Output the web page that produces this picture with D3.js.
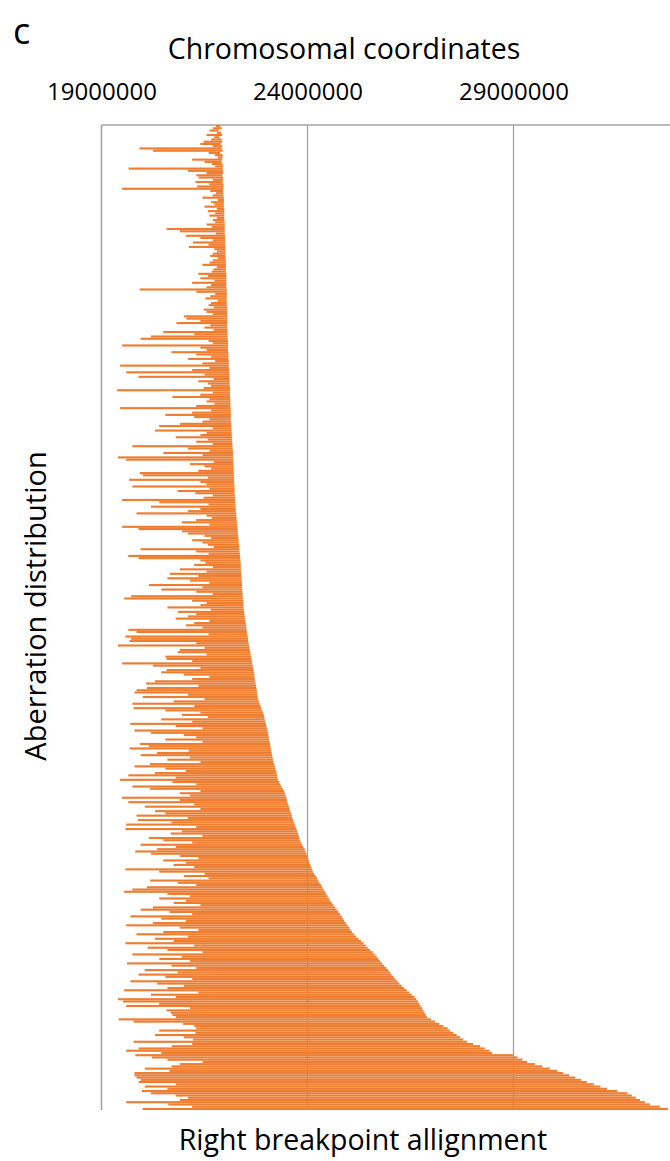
<!DOCTYPE html>
<html>
<head>
<meta charset="utf-8">
<script src="https://cdn.jsdelivr.net/npm/d3@7"></script>
<style>
  html, body { margin: 0; padding: 0; background: #fff; }
  svg { display: block; }
  text { font-family: "Open Sans", "Noto Sans", sans-serif; fill: #000; }
</style>
</head>
<body>
<svg id="chart" width="670" height="1161"></svg>
<script>
// Axis tick positions (base pairs)
const tickValues = [19000000, 24000000, 29000000];

// Left breakpoint of each aberration, in Mb, one row per aberration (top to bottom)
const startMb = [
  21.78, 21.70, 21.62, 21.80, 21.55, 21.74, 21.66, 21.48, 21.40, 21.70,
  19.92, 20.25, 21.60, 21.75, 21.82, 21.20, 21.50, 21.68, 21.76, 19.66,
  21.10, 21.55, 21.30, 21.36, 21.70, 21.28, 21.62, 21.32, 19.50, 21.64,
  21.78, 21.70, 21.45, 21.82, 21.66, 21.74, 21.50, 21.80, 21.58, 21.76,
  21.62, 21.80, 21.70, 21.76, 21.55, 21.68, 20.58, 20.90, 21.78, 21.05,
  21.40, 21.70, 21.22, 21.60, 21.12, 21.74, 21.80, 21.70, 21.64, 21.82,
  21.70, 21.62, 21.45, 21.80, 21.72, 21.68, 21.35, 21.58, 21.40, 21.74,
  21.20, 21.66, 21.55, 19.93, 21.30, 21.76, 21.64, 21.52, 21.82, 21.66,
  21.60, 21.72, 21.48, 21.55, 21.70, 21.00, 21.06, 21.40, 20.82, 21.64,
  21.50, 21.72, 20.50, 21.25, 20.20, 19.95, 21.60, 21.70, 19.50, 21.40,
  21.55, 20.70, 21.30, 21.66, 21.10, 21.76, 21.45, 19.45, 21.62, 21.20,
  19.60, 21.50, 19.90, 21.72, 21.35, 21.58, 21.66, 21.48, 19.38, 21.70,
  21.40, 20.72, 21.62, 21.55, 21.74, 21.30, 19.45, 21.66, 21.20, 20.55,
  21.25, 21.62, 21.45, 20.91, 20.40, 21.70, 20.30, 21.55, 21.40, 20.80,
  21.58, 21.30, 21.70, 19.75, 21.10, 21.62, 20.50, 21.45, 19.40, 19.60,
  21.72, 21.15, 21.50, 21.66, 21.35, 19.93, 20.00, 21.58, 19.67, 21.40,
  21.55, 19.75, 21.62, 20.85, 21.28, 21.70, 21.48, 19.50, 20.40, 21.60,
  20.20, 21.40, 21.10, 19.85, 21.55, 21.68, 21.30, 20.95, 21.62, 19.50,
  19.90, 20.95, 21.10, 21.50, 21.66, 21.20, 21.45, 21.58, 21.72, 19.95,
  21.30, 21.60, 19.65, 19.90, 21.40, 21.52, 21.25, 21.70, 20.90, 21.55,
  20.66, 21.35, 20.60, 21.15, 21.62, 20.15, 21.45, 20.45, 21.30, 21.70,
  19.72, 19.55, 21.20, 21.55, 21.40, 20.60, 21.65, 20.85, 21.30, 21.10,
  20.80, 21.62, 21.25, 21.05, 21.45, 19.65, 19.85, 21.60, 19.58, 19.72,
  19.68, 21.30, 19.40, 21.50, 20.90, 20.85, 21.55, 20.55, 20.58, 21.20,
  19.50, 20.25, 21.40, 20.58, 20.45, 21.00, 21.62, 21.20, 20.30, 20.08,
  21.35, 20.10, 19.85, 19.80, 21.10, 20.00, 21.50, 20.75, 19.75, 21.25,
  19.78, 20.55, 21.40, 20.95, 21.58, 20.45, 21.20, 19.70, 20.80, 21.45,
  19.80, 20.20, 21.00, 21.30, 20.55, 21.45, 19.93, 20.15, 19.68, 21.12,
  20.35, 19.95, 21.15, 20.60, 21.40, 20.18, 19.80, 20.55, 21.05, 20.30,
  19.65, 20.80, 19.45, 20.72, 21.30, 19.75, 20.18, 21.40, 20.90, 21.15,
  19.50, 20.90, 19.65, 21.25, 20.05, 21.40, 20.30, 20.55, 19.85, 21.10,
  19.88, 20.70, 19.60, 21.30, 19.58, 20.95, 20.68, 21.45, 20.15, 20.50,
  21.20, 19.95, 20.80, 20.35, 19.82, 20.20, 20.90, 21.35, 20.50, 21.05,
  20.75, 21.25, 19.58, 20.40, 21.50, 21.00, 21.60, 20.18, 20.85, 21.30,
  20.10, 19.75, 19.55, 20.60, 21.15, 20.40, 21.05, 20.75, 21.40, 20.25,
  19.95, 20.65, 21.20, 19.70, 20.45, 21.05, 20.25, 19.60, 20.90, 21.35,
  20.50, 19.85, 21.10, 20.30, 20.75, 19.58, 21.25, 20.12, 20.60, 21.45,
  19.75, 20.95, 20.40, 21.15, 19.62, 20.70, 21.30, 20.05, 20.85, 19.90,
  20.55, 21.20, 19.70, 20.35, 21.00, 20.60, 19.55, 21.35, 20.20, 20.80,
  19.40, 19.52, 20.40, 19.60, 21.15, 20.58, 20.68, 20.72, 20.80, 19.42,
  19.78, 20.98, 21.25, 21.30, 20.40, 21.28, 20.30, 21.00, 21.22, 19.78,
  21.20, 20.70, 19.90, 19.60, 20.45, 19.82, 20.22, 20.60, 21.45, 20.90,
  20.70, 20.05, 20.65, 19.80, 19.80, 19.85, 19.95, 19.90, 20.80, 20.05,
  20.60, 19.98, 20.20, 20.80, 21.10, 20.90, 19.60, 20.62, 21.20, 20.00
];

// Right breakpoint of each aberration, in Mb (rows ordered by this value)
const endMb = [
  21.88, 21.92, 21.84, 21.90, 21.93, 21.86, 21.92, 21.93, 21.89, 21.93,
  21.92, 21.94, 21.88, 21.94, 21.94, 21.93, 21.91, 21.94, 21.95, 21.94,
  21.95, 21.95, 21.93, 21.95, 21.95, 21.94, 21.96, 21.96, 21.96, 21.95,
  21.96, 21.96, 21.97, 21.97, 21.97, 21.97, 21.97, 21.98, 21.98, 21.98,
  21.98, 21.98, 21.98, 21.99, 21.99, 21.99, 21.99, 21.99, 21.99, 22.00,
  22.00, 22.00, 22.00, 22.00, 22.01, 22.01, 22.01, 22.01, 22.01, 22.01,
  22.02, 22.02, 22.02, 22.02, 22.02, 22.02, 22.03, 22.03, 22.03, 22.03,
  22.03, 22.03, 22.03, 22.04, 22.04, 22.04, 22.04, 22.04, 22.04, 22.04,
  22.04, 22.05, 22.05, 22.05, 22.05, 22.05, 22.05, 22.05, 22.05, 22.05,
  22.05, 22.06, 22.06, 22.06, 22.06, 22.06, 22.07, 22.07, 22.07, 22.07,
  22.07, 22.08, 22.08, 22.08, 22.08, 22.09, 22.09, 22.09, 22.09, 22.10,
  22.10, 22.10, 22.10, 22.11, 22.11, 22.11, 22.11, 22.12, 22.12, 22.12,
  22.12, 22.12, 22.13, 22.13, 22.13, 22.13, 22.13, 22.14, 22.14, 22.14,
  22.14, 22.14, 22.14, 22.15, 22.15, 22.15, 22.16, 22.16, 22.16, 22.17,
  22.17, 22.17, 22.18, 22.18, 22.18, 22.19, 22.19, 22.19, 22.20, 22.20,
  22.20, 22.20, 22.21, 22.21, 22.21, 22.21, 22.22, 22.22, 22.22, 22.22,
  22.22, 22.23, 22.23, 22.23, 22.23, 22.24, 22.24, 22.24, 22.25, 22.25,
  22.25, 22.26, 22.26, 22.27, 22.27, 22.28, 22.28, 22.29, 22.29, 22.30,
  22.30, 22.31, 22.31, 22.32, 22.32, 22.33, 22.33, 22.34, 22.34, 22.35,
  22.35, 22.36, 22.36, 22.37, 22.37, 22.38, 22.38, 22.38, 22.39, 22.39,
  22.39, 22.40, 22.40, 22.40, 22.41, 22.41, 22.41, 22.42, 22.42, 22.42,
  22.43, 22.43, 22.44, 22.44, 22.45, 22.45, 22.46, 22.46, 22.47, 22.48,
  22.48, 22.49, 22.50, 22.51, 22.52, 22.52, 22.53, 22.54, 22.55, 22.56,
  22.56, 22.57, 22.58, 22.59, 22.60, 22.61, 22.62, 22.63, 22.64, 22.65,
  22.66, 22.67, 22.68, 22.69, 22.70, 22.71, 22.71, 22.72, 22.73, 22.74,
  22.75, 22.76, 22.77, 22.78, 22.78, 22.79, 22.80, 22.82, 22.84, 22.86,
  22.88, 22.90, 22.92, 22.94, 22.95, 22.96, 22.97, 22.99, 23.00, 23.02,
  23.03, 23.04, 23.05, 23.06, 23.07, 23.08, 23.09, 23.10, 23.11, 23.12,
  23.13, 23.14, 23.15, 23.16, 23.17, 23.19, 23.21, 23.22, 23.24, 23.25,
  23.26, 23.27, 23.28, 23.31, 23.34, 23.37, 23.40, 23.43, 23.45, 23.47,
  23.49, 23.50, 23.51, 23.53, 23.55, 23.56, 23.58, 23.60, 23.62, 23.63,
  23.65, 23.67, 23.69, 23.71, 23.73, 23.75, 23.77, 23.79, 23.80, 23.82,
  23.84, 23.87, 23.90, 23.93, 23.95, 23.97, 23.99, 24.01, 24.03, 24.05,
  24.07, 24.09, 24.11, 24.13, 24.16, 24.20, 24.23, 24.26, 24.29, 24.33,
  24.36, 24.39, 24.42, 24.45, 24.49, 24.52, 24.55, 24.59, 24.63, 24.67,
  24.71, 24.75, 24.79, 24.83, 24.86, 24.89, 24.93, 24.97, 25.01, 25.04,
  25.08, 25.13, 25.18, 25.24, 25.30, 25.36, 25.41, 25.46, 25.52, 25.58,
  25.63, 25.68, 25.72, 25.76, 25.81, 25.86, 25.91, 25.96, 26.00, 26.04,
  26.08, 26.13, 26.18, 26.23, 26.29, 26.35, 26.41, 26.47, 26.53, 26.60,
  26.64, 26.68, 26.71, 26.74, 26.78, 26.81, 26.84, 26.87, 26.90, 27.00,
  27.10, 27.20, 27.30, 27.40, 27.46, 27.54, 27.62, 27.70, 27.78, 27.87,
  28.02, 28.19, 28.30, 28.42, 28.48, 28.99, 29.10, 29.22, 29.33, 29.52,
  29.70, 29.88, 30.06, 30.20, 30.35, 30.50, 30.64, 30.78, 30.95, 31.11,
  31.27, 31.52, 31.76, 31.87, 31.97, 32.07, 32.19, 32.31, 32.55, 32.75
];

const MB = 1e6;
const rows = startMb.map((s, i) => ({ row: i, start: s * MB, end: endMb[i] * MB }));

const svg = d3.select("#chart");
const plot = { left: 101.5, top: 125, bottom: 1110 };

const x = d3.scaleLinear()
  .domain([19000000, 34000000])
  .range([plot.left, plot.left + 15 * 41.2]);

const y = d3.scaleBand()
  .domain(rows.map(d => d.row))
  .range([plot.top, plot.bottom])
  .paddingInner(0.05)
  .paddingOuter(0);

// vertical gridlines
svg.append("g")
  .selectAll("line")
  .data(tickValues.slice(1))
  .join("line")
  .attr("x1", d => x(d)).attr("x2", d => x(d))
  .attr("y1", plot.top).attr("y2", plot.bottom)
  .attr("stroke", "#a3a3a3")
  .attr("stroke-width", 1.3);

// plot frame: left axis line and top border
svg.append("line")
  .attr("x1", plot.left).attr("x2", plot.left)
  .attr("y1", plot.top).attr("y2", plot.bottom)
  .attr("stroke", "#a3a3a3").attr("stroke-width", 1.6);
svg.append("line")
  .attr("x1", plot.left).attr("x2", 670)
  .attr("y1", plot.top).attr("y2", plot.top)
  .attr("stroke", "#a3a3a3").attr("stroke-width", 1.6);

// floating bars from left to right breakpoint
svg.append("g")
  .selectAll("rect")
  .data(rows)
  .join("rect")
  .attr("x", d => x(d.start))
  .attr("width", d => x(d.end) - x(d.start))
  .attr("y", d => y(d.row))
  .attr("height", y.bandwidth())
  .attr("fill", "#ed7d31");

// top axis tick labels
const axis = d3.axisTop(x)
  .tickValues(tickValues)
  .tickFormat(d3.format("d"))
  .tickSize(0)
  .tickPadding(0);
const gAxis = svg.append("g")
  .attr("transform", "translate(0,100)")
  .call(axis);
gAxis.select(".domain").remove();
gAxis.selectAll("text")
  .attr("font-size", 24)
  .attr("font-family", "\"Open Sans\", sans-serif")
  .attr("fill", "#000");

// titles
svg.append("text")
  .attr("x", 13).attr("y", 44)
  .attr("font-size", 36)
  .text("c");

svg.append("text")
  .attr("x", 344).attr("y", 59)
  .attr("text-anchor", "middle")
  .attr("font-size", 28.5)
  .text("Chromosomal coordinates");

svg.append("text")
  .attr("x", 363).attr("y", 1150)
  .attr("text-anchor", "middle")
  .attr("font-size", 28.5)
  .text("Right breakpoint allignment");

svg.append("text")
  .attr("transform", "translate(46,606) rotate(-90)")
  .attr("text-anchor", "middle")
  .attr("font-size", 29)
  .text("Aberration distribution");
</script>
</body>
</html>
